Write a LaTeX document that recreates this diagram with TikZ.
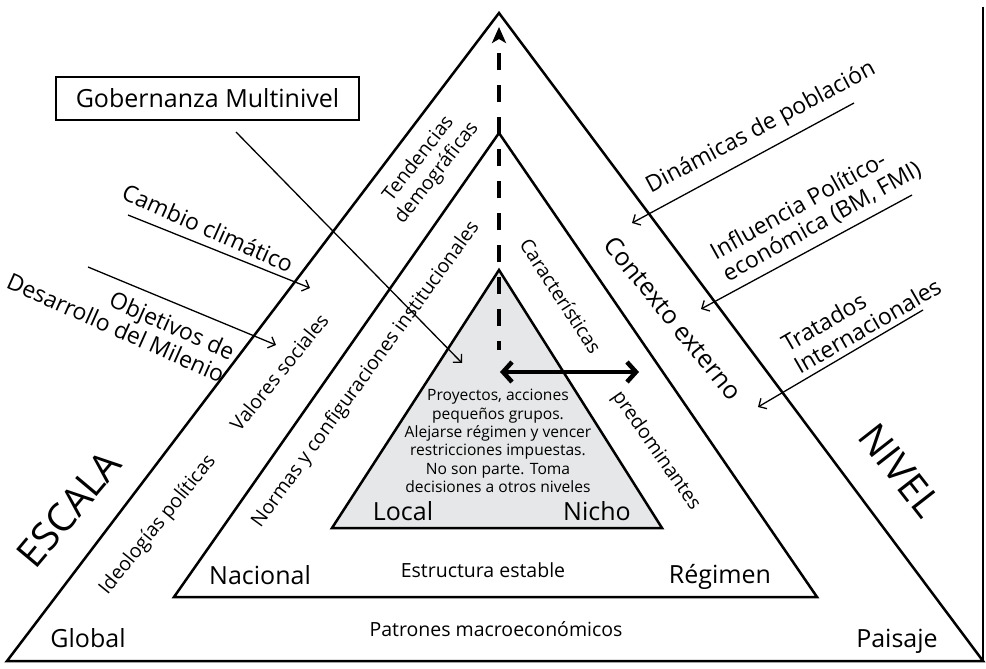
\documentclass[tikz,border=0pt]{standalone}
\usepackage{fontspec}
\setmainfont{Open Sans}
\usetikzlibrary{arrows.meta}
\definecolor{nichogray}{HTML}{E6E7E8}
\begin{document}
\begin{tikzpicture}[x=1pt,y=-1pt,
  tri/.style={draw=black, line width=2.5pt, line join=miter},
  thinarr/.style={draw=black, line width=1.3pt, -{Straight Barb[length=6pt,width=12pt]}},
  lvl/.style={font=\fontsize{25}{30}\selectfont, inner sep=0pt},
  desc/.style={font=\fontsize{19.5}{23}\selectfont, inner sep=0pt},
  ext/.style={font=\fontsize{23}{25}\selectfont, inner sep=0pt},
  big/.style={font=\fontsize{39}{45}\selectfont, inner sep=0pt},
  para/.style={font=\fontsize{15.6}{18.4}\selectfont, inner sep=0pt, align=center},
]
\useasboundingbox (0,0) rectangle (986,669);
\fill[white] (0,0) rectangle (986,669);

% triangle corners
\coordinate (OA) at (499,13);
\coordinate (OL) at (7,661);
\coordinate (OR) at (983,661);
\coordinate (MA) at (499,133);
\coordinate (ML) at (174,597);
\coordinate (MR) at (817,597);
\coordinate (IA) at (499,270);
\coordinate (IL) at (332,528);
\coordinate (IR) at (662,528);
\coordinate (VT) at (983,7);

\fill[nichogray] (IA) -- (IL) -- (IR) -- cycle;
\draw[tri] (OA) -- (OL) -- (OR) -- cycle;
\draw[tri] (MA) -- (ML) -- (MR) -- cycle;
\draw[tri] (IA) -- (IL) -- (IR) -- cycle;
\draw[tri] (VT) -- (OR);

% dashed vertical arrow
\coordinate (D0) at (499,350);
\coordinate (D1) at (499,27);
\draw[line width=4.5pt, dash pattern=on 17pt off 15pt, dash phase=8pt,
  -{Stealth[length=16pt,width=14pt,inset=4pt]}] (D0) -- (D1);

% double arrow
\coordinate (H0) at (500,372);
\coordinate (H1) at (639,372);
\draw[line width=4.5pt, {Straight Barb[length=9pt,width=20pt]}-{Straight Barb[length=9pt,width=20pt]}] (H0) -- (H1);

% Gobernanza box and arrow
\node[draw, line width=2pt, minimum width=303pt, minimum height=43pt, inner sep=0pt,
  font=\fontsize{25}{30}\selectfont] (gob) at (207.5,98.5) {Gobernanza Multinivel};
\coordinate (g0) at (236,132);
\coordinate (g1) at (462,363);
\draw[thinarr] (g0) -- (g1);

% left external arrows
\node[ext, rotate=-24] (cc) at (208,228) {Cambio climático};
\coordinate (c0) at (128,215);
\coordinate (c1) at (310,288);
\draw[thinarr] (c0) -- (c1);

\node[ext, rotate=-24, align=right] (odm) at (121,316) {Objetivos de\\Desarrollo del Milenio};
\coordinate (o0) at (88,267);
\coordinate (o1) at (276,345);
\draw[thinarr] (o0) -- (o1);

% right external arrows
\node[ext, rotate=28] (din) at (761,128) {Dinámicas de población};
\coordinate (d0) at (854,103);
\coordinate (d1) at (632,223);
\draw[thinarr] (d0) -- (d1);

\node[ext, rotate=29, align=left] (inf) at (816,211) {Influencia Político-\\económica (BM, FMI)};
\coordinate (i0) at (912,195);
\coordinate (i1) at (701,309);
\draw[thinarr] (i0) -- (i1);

\node[ext, rotate=30, align=left] (tra) at (861,315) {Tratados\\Internacionales};
\coordinate (t0) at (923,310);
\coordinate (t1) at (758,407);
\draw[thinarr] (t0) -- (t1);

% level labels
\node[lvl, anchor=base] (glob) at (88,647) {Global};
\node[desc, anchor=base] (patr) at (496,636) {Patrones macroeconómicos};
\node[lvl, anchor=base] (pais) at (897,647) {Paisaje};
\node[lvl, anchor=base] (nac) at (260,584) {Nacional};
\node[desc, anchor=base] (estr) at (483,577) {Estructura estable};
\node[lvl, anchor=base] (reg) at (720,583) {Régimen};
\node[lvl, anchor=base] (loc) at (403,520) {Local};
\node[lvl, anchor=base] (nic) at (597,520) {Nicho};

\node[para] (par) at (498,441) {Proyectos, acciones\\pequeños grupos.\\Alejarse régimen y vencer\\restricciones impuestas.\\No son parte. Toma\\decisiones a otros niveles};

% rotated side labels
\node[desc, rotate=52, align=center] (tend) at (428,166) {Tendencias\\demográficas};
\node[desc, rotate=54] (norm) at (366,375) {Normas y configuraciones institucionales};
\node[desc, rotate=51] (val) at (279,372) {Valores sociales};
\node[desc, rotate=51] (ideo) at (158,525) {Ideologías políticas};
\node[big, rotate=50] (esc) at (69,509) {ESCALA};
\node[desc, rotate=-57] (car) at (561,296) {Características};
\node[desc, rotate=-55] (pred) at (656,451) {predominantes};
\node[lvl, rotate=-51] (ctx) at (673,318) {Contexto externo};
\node[big, rotate=-52] (niv) at (900,470) {NIVEL};
\end{tikzpicture}
\end{document}
